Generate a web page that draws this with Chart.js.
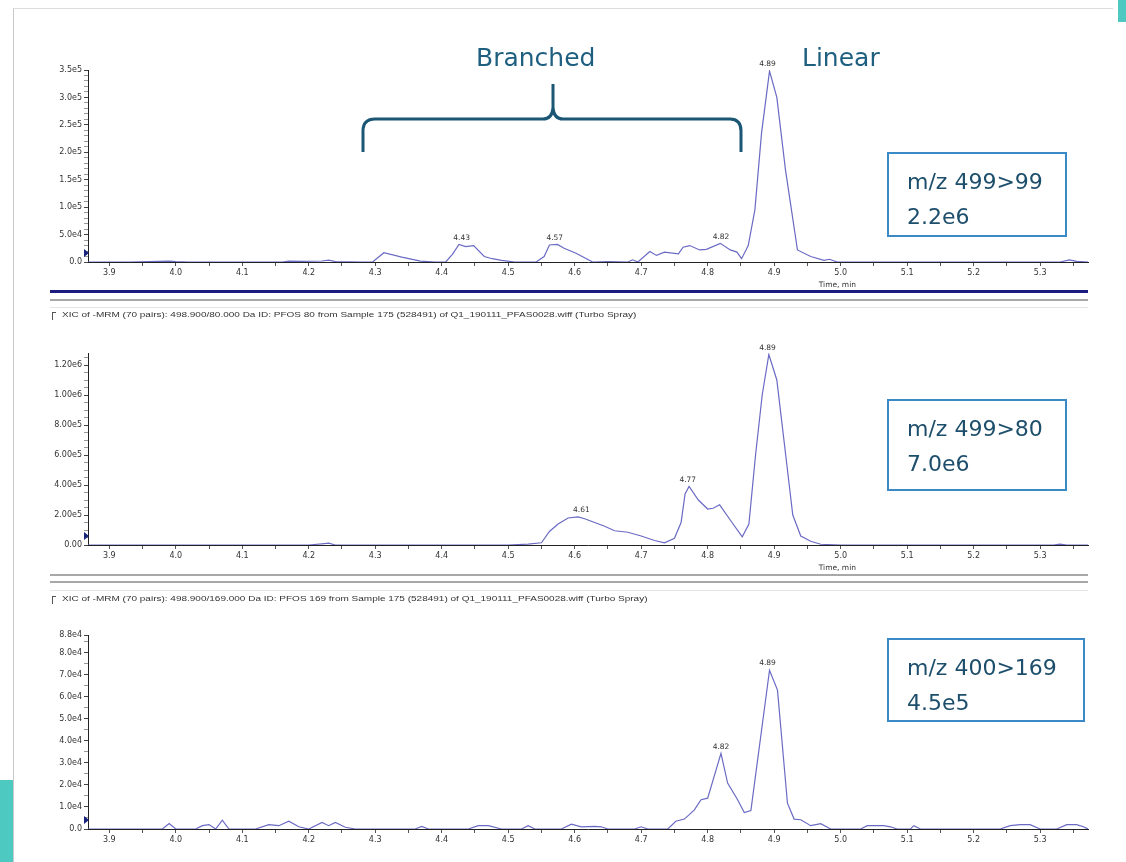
<!DOCTYPE html>
<html>
<head>
<meta charset="utf-8">
<script src="https://cdn.jsdelivr.net/npm/chart.js@4.4.1/dist/chart.umd.min.js"></script>
<style>
  body { margin: 0; width: 1126px; height: 862px; position: relative; background: #fff; overflow: hidden; font-family: "DejaVu Sans", sans-serif; }
  canvas { position: absolute; }
  .abs { position: absolute; }
  .note { position: absolute; color: #1e5f80; font-size: 25px; line-height: 30px; white-space: nowrap; }
  .box { position: absolute; border: 2px solid #3b8ac8; box-sizing: border-box; color: #1d4e6b; font-size: 22px; line-height: 35px; padding: 10px 0 0 18px; white-space: nowrap; }
  .cap { position: absolute; left: 62px; font-size: 8px; color: #333; white-space: nowrap; font-family: "Liberation Sans", Arial, sans-serif; transform: scaleX(1.25); transform-origin: left center; }
  .capmark { position: absolute; left: 52px; width: 3px; height: 7px; border-left: 1px solid #555; border-top: 1px solid #555; }
</style>
</head>
<body>

<div class="abs" style="left:13px;top:8px;width:1px;height:854px;background:#c8c8c8"></div>
<div class="abs" style="left:13px;top:8px;width:1100px;height:1px;background:#dcdcdc"></div>
<div class="abs" style="left:0;top:780px;width:13px;height:82px;background:#4ec9c1"></div>
<div class="abs" style="left:1118px;top:0;width:8px;height:22px;background:#4ec9c1"></div>

<canvas id="c1" width="1080" height="250" style="left:20px;top:50px"></canvas>
<canvas id="c2" width="1080" height="245" style="left:20px;top:335px"></canvas>
<canvas id="c3" width="1080" height="245" style="left:20px;top:615px"></canvas>

<!-- separators and captions -->
<div class="abs" style="left:50px;top:290px;width:1038px;height:3px;background:#1c1c80"></div>
<div class="abs" style="left:50px;top:299px;width:1038px;height:2px;background:#a8a8a8"></div>
<div class="abs" style="left:50px;top:307px;width:1038px;height:1px;background:#e4e4e4"></div>
<div class="capmark" style="top:312px"></div>
<div class="cap" style="top:310px">XIC of -MRM (70 pairs): 498.900/80.000 Da ID: PFOS 80 from Sample 175 (528491) of Q1_190111_PFAS0028.wiff (Turbo Spray)</div>

<div class="abs" style="left:50px;top:574px;width:1038px;height:2px;background:#a8a8a8"></div>
<div class="abs" style="left:50px;top:581px;width:1038px;height:2px;background:#a8a8a8"></div>
<div class="abs" style="left:50px;top:590px;width:1038px;height:1px;background:#e4e4e4"></div>
<div class="capmark" style="top:596px"></div>
<div class="cap" style="top:594px">XIC of -MRM (70 pairs): 498.900/169.000 Da ID: PFOS 169 from Sample 175 (528491) of Q1_190111_PFAS0028.wiff (Turbo Spray)</div>

<!-- annotations -->
<div class="note" style="left:476px;top:43px">Branched</div>
<div class="note" style="left:802px;top:43px">Linear</div>
<svg class="abs" style="left:0;top:0" width="1126" height="200">
  <path d="M363,152 L363,131 Q363,119 375,119 L543,119 Q552,119 553,108 L553,84 M553,84 L553,108 Q554,119 563,119 L730,119 Q741,119 741,131 L741,152"
        fill="none" stroke="#1b5675" stroke-width="3" stroke-linejoin="round"/>
</svg>

<div class="box" style="left:887px;top:152px;width:180px;height:85px">m/z 499&gt;99<br>2.2e6</div>
<div class="box" style="left:887px;top:399px;width:180px;height:92px">m/z 499&gt;80<br>7.0e6</div>
<div class="box" style="left:887px;top:638px;width:198px;height:84px">m/z 400&gt;169<br>4.5e5</div>

<script>
// time axis (min)
const xMajor = [3.9, 4.0, 4.1, 4.2, 4.3, 4.4, 4.5, 4.6, 4.7, 4.8, 4.9, 5.0, 5.1, 5.2, 5.3];
const xMajorLabels = ['3.9', '4.0', '4.1', '4.2', '4.3', '4.4', '4.5', '4.6', '4.7', '4.8', '4.9', '5.0', '5.1', '5.2', '5.3'];
const xMinor = [3.95, 4.05, 4.15, 4.25, 4.35, 4.45, 4.55, 4.65, 4.75, 4.85, 4.95, 5.05, 5.15, 5.25, 5.35];

// m/z 499 > 99
const time1 = [3.868, 3.93, 3.96, 3.99, 4.0, 4.02, 4.1, 4.16, 4.17, 4.19, 4.22, 4.23, 4.24, 4.28, 4.296,
  4.313, 4.34, 4.368, 4.39, 4.406, 4.416, 4.426, 4.436, 4.448, 4.464, 4.476, 4.49, 4.51, 4.542, 4.554,
  4.562, 4.574, 4.584, 4.602, 4.627, 4.65, 4.68, 4.687, 4.695, 4.713, 4.723, 4.735, 4.756, 4.763, 4.773,
  4.788, 4.798, 4.819, 4.834, 4.844, 4.851, 4.861, 4.871, 4.881, 4.893, 4.904, 4.917, 4.935, 4.955, 4.975,
  4.983, 4.995, 5.1, 5.2, 5.3, 5.33, 5.344, 5.355, 5.372];
const inten1 = [0, 0, 800, 1500, 800, 0, 0, 0, 1500, 1200, 1800, 3500, 800, 0, 0,
  17000, 9000, 1500, 0, 0, 14000, 32000, 28000, 30000, 10000, 6000, 3000, 0, 0, 10000,
  31000, 32000, 25000, 16000, 0, 800, 0, 4000, 0, 19000, 12000, 18000, 15000, 27000, 30000,
  22000, 23000, 34000, 22000, 18000, 6000, 30000, 95000, 235000, 348000, 300000, 168000, 22000, 10000, 3000,
  5000, 0, 0, 0, 0, 0, 4000, 1000, 0];
const yMajor1 = [0, 50000, 100000, 150000, 200000, 250000, 300000, 350000];
const yLabels1 = ['0.0', '5.0e4', '1.0e5', '1.5e5', '2.0e5', '2.5e5', '3.0e5', '3.5e5'];
const peaks1 = [4.43, 4.57, 4.82, 4.89];

// m/z 499 > 80
const time2 = [3.868, 4.2, 4.22, 4.23, 4.24, 4.3, 4.5, 4.53, 4.55, 4.562, 4.575, 4.59, 4.605, 4.615, 4.63,
  4.645, 4.66, 4.68, 4.7, 4.72, 4.735, 4.75, 4.76, 4.766, 4.772, 4.786, 4.8, 4.808, 4.818, 4.835,
  4.852, 4.862, 4.872, 4.882, 4.892, 4.904, 4.916, 4.928, 4.94, 4.955, 4.97, 5.0, 5.1, 5.2, 5.32,
  5.33, 5.34, 5.372];
const inten2 = [0, 0, 8000, 12000, 0, 0, 0, 6000, 15000, 90000, 140000, 180000, 187000, 175000, 150000,
  125000, 95000, 85000, 60000, 30000, 15000, 45000, 150000, 340000, 390000, 300000, 240000, 245000, 268000, 160000,
  55000, 140000, 600000, 1000000, 1270000, 1100000, 650000, 200000, 60000, 25000, 5000, 0, 0, 0, 0,
  6000, 0, 0];
const yMajor2 = [0, 200000, 400000, 600000, 800000, 1000000, 1200000];
const yLabels2 = ['0.00', '2.00e5', '4.00e5', '6.00e5', '8.00e5', '1.00e6', '1.20e6'];
const peaks2 = [4.61, 4.77, 4.89];

// m/z 400 > 169
const time3 = [3.868, 3.98, 3.99, 4.0, 4.03, 4.04, 4.05, 4.06, 4.07, 4.08, 4.12, 4.14, 4.155, 4.17, 4.185,
  4.2, 4.22, 4.23, 4.24, 4.255, 4.27, 4.36, 4.37, 4.38, 4.44, 4.455, 4.47, 4.49, 4.52, 4.53,
  4.54, 4.58, 4.595, 4.61, 4.63, 4.64, 4.65, 4.69, 4.7, 4.71, 4.74, 4.752, 4.765, 4.78, 4.79,
  4.8, 4.82, 4.83, 4.845, 4.855, 4.865, 4.893, 4.905, 4.92, 4.93, 4.94, 4.955, 4.97, 4.985, 5.03,
  5.04, 5.05, 5.065, 5.075, 5.085, 5.105, 5.11, 5.12, 5.24, 5.255, 5.27, 5.285, 5.3, 5.325, 5.34,
  5.355, 5.365, 5.372];
const inten3 = [0, 0, 2500, 0, 0, 1500, 2000, 0, 4000, 0, 0, 2000, 1500, 3500, 1000,
  0, 3000, 1500, 3000, 800, 0, 0, 1200, 0, 0, 1500, 1500, 0, 0, 1500,
  0, 0, 2200, 1000, 1200, 1000, 0, 0, 1000, 0, 0, 3500, 4500, 8700, 13300,
  14000, 34300, 20800, 13300, 7500, 8400, 72000, 63000, 11700, 4500, 4200, 1500, 2400, 0, 0,
  1500, 1500, 1500, 1000, 0, 0, 1500, 0, 0, 1500, 2000, 2000, 0, 0, 2000,
  2000, 1000, 0];
const yMajor3 = [0, 10000, 20000, 30000, 40000, 50000, 60000, 70000, 80000, 88000];
const yLabels3 = ['0.0', '1.0e4', '2.0e4', '3.0e4', '4.0e4', '5.0e4', '6.0e4', '7.0e4', '8.0e4', '8.8e4'];
const peaks3 = [4.82, 4.89];

const tickFont = { family: 'DejaVu Sans', size: 8 };

const chromPlugin = {
  id: 'chrom',
  afterDatasetsDraw(chart, args, opts) {
    const { ctx, chartArea, scales: { x, y } } = chart;
    const pts = chart.data.datasets[0].data;
    ctx.save();
    ctx.font = '7.5px "DejaVu Sans"';
    ctx.fillStyle = '#333';
    ctx.textAlign = 'center';
    ctx.textBaseline = 'bottom';
    (opts.peaks || []).forEach(t => {
      let best = null;
      pts.forEach(p => { if (Math.abs(p.x - t) <= 0.02 && (!best || p.y > best.y)) best = p; });
      if (best) ctx.fillText(t.toFixed(2), x.getPixelForValue(t), y.getPixelForValue(best.y) - 3);
    });
    if (opts.timeTitle) {
      ctx.textBaseline = 'middle';
      ctx.fillText('Time, min', x.getPixelForValue(4.995), chartArea.bottom + 23);
    }
    // threshold marker
    const ty = chartArea.bottom - 9;
    ctx.fillStyle = '#1a237e';
    ctx.beginPath();
    ctx.moveTo(chartArea.left - 4, ty - 4);
    ctx.lineTo(chartArea.left + 1, ty);
    ctx.lineTo(chartArea.left - 4, ty + 4);
    ctx.closePath();
    ctx.fill();
    ctx.restore();
  }
};

function makeChart(id, times, values, yMajor, yLabels, yMax, minorStep, peaks, timeTitle, padTop, xHeight) {
  return new Chart(document.getElementById(id), {
    type: 'line',
    data: {
      datasets: [{
        data: times.map((t, i) => ({ x: t, y: values[i] })),
        borderColor: '#6a6ac4',
        borderWidth: 1.2,
        pointRadius: 0,
        tension: 0,
        fill: false
      }]
    },
    options: {
      responsive: false,
      animation: false,
      devicePixelRatio: 1,
      layout: { padding: { top: padTop, right: 12, left: 0, bottom: 0 } },
      plugins: {
        legend: { display: false },
        tooltip: { enabled: false },
        chrom: { peaks: peaks, timeTitle: timeTitle }
      },
      scales: {
        x: {
          type: 'linear',
          min: 3.868,
          max: 5.372,
          afterBuildTicks: s => { s.ticks = xMajor.concat(xMinor).sort((a, b) => a - b).map(v => ({ value: v })); },
          afterFit: s => { s.height = xHeight; },
          ticks: {
            autoSkip: false,
            maxRotation: 0,
            padding: 2,
            font: tickFont,
            color: '#333',
            callback: v => { const i = xMajor.indexOf(v); return i >= 0 ? xMajorLabels[i] : ''; }
          },
          grid: { drawOnChartArea: false, tickLength: 4, tickColor: '#555' },
          border: { color: '#222', width: 1 }
        },
        y: {
          min: 0,
          max: yMax,
          afterBuildTicks: s => {
            const vals = yMajor.slice();
            for (let v = minorStep; v < yMax; v += minorStep) {
              if (!yMajor.some(m => Math.abs(m - v) < minorStep / 10)) vals.push(v);
            }
            s.ticks = vals.sort((a, b) => a - b).map(v => ({ value: v }));
          },
          afterFit: s => { s.width = 68; },
          ticks: {
            autoSkip: false,
            padding: 2,
            font: tickFont,
            color: '#333',
            callback: v => { const i = yMajor.indexOf(v); return i >= 0 ? yLabels[i] : ''; }
          },
          grid: {
            drawOnChartArea: false,
            tickLength: 4,
            tickColor: c => (yMajor.indexOf(c.tick.value) >= 0 ? '#444' : '#999')
          },
          border: { color: '#222', width: 1 }
        }
      }
    },
    plugins: [chromPlugin]
  });
}

makeChart('c1', time1, inten1, yMajor1, yLabels1, 350000, 10000, peaks1, true, 20, 38);
makeChart('c2', time2, inten2, yMajor2, yLabels2, 1280000, 50000, peaks2, true, 18, 35);
makeChart('c3', time3, inten3, yMajor3, yLabels3, 88000, 5000, peaks3, false, 20, 31);
</script>
</body>
</html>
